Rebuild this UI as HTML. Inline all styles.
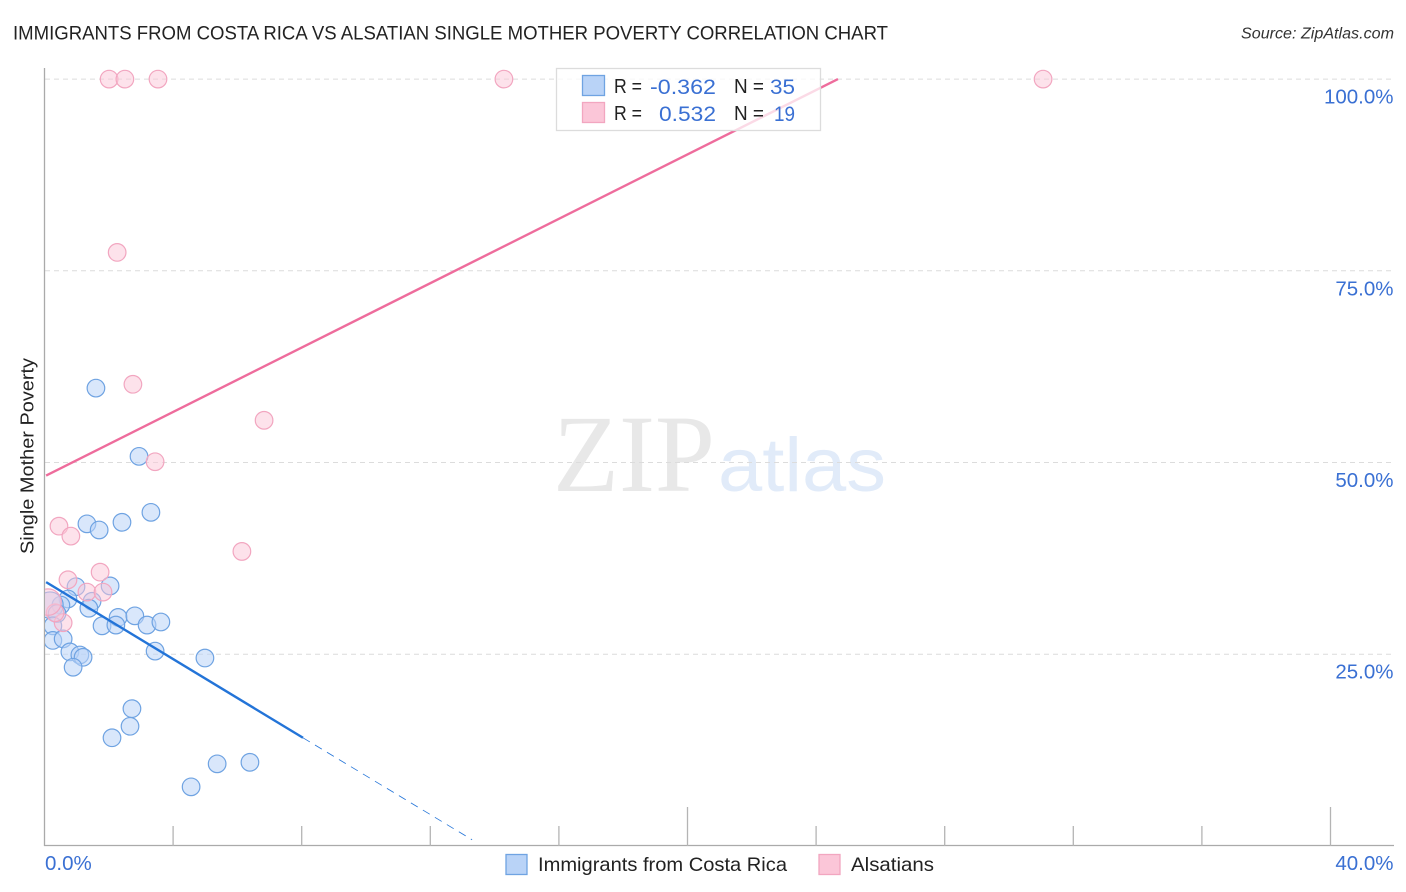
<!DOCTYPE html>
<html lang="en">
<head>
<meta charset="utf-8">
<title>Immigrants from Costa Rica vs Alsatian Single Mother Poverty Correlation Chart</title>
<style>
html,body{margin:0;padding:0;background:#fff;width:1406px;height:892px;overflow:hidden}
svg{display:block;font-family:"Liberation Sans",sans-serif}
</style>
</head>
<body>
<svg id="chart" xmlns="http://www.w3.org/2000/svg" width="1406" height="892" viewBox="0 0 1406 892">
  <defs><clipPath id="plot-clip"><rect x="45" y="60" width="1349" height="786"/></clipPath></defs>
  <g id="watermark">
    <text x="553" y="491" font-family="'Liberation Serif',serif" font-size="110" fill="#e8e8e8" textLength="162" lengthAdjust="spacingAndGlyphs">ZIP</text>
    <text x="718" y="491" font-size="76" fill="#e1ebf9" textLength="168" lengthAdjust="spacingAndGlyphs">atlas</text>
  </g>
  <g id="grid"></g>
  <g id="axes"></g>
  <g id="points-blue" clip-path="url(#plot-clip)"></g>
  <g id="points-pink" clip-path="url(#plot-clip)"></g>
  <g id="trends"></g>
  <text x="13" y="39.500" font-size="19.500" fill="#222" textLength="875" lengthAdjust="spacingAndGlyphs">IMMIGRANTS FROM COSTA RICA VS ALSATIAN SINGLE MOTHER POVERTY CORRELATION CHART</text>
  <text x="1394" y="38.500" font-size="15.500" font-style="italic" fill="#333" text-anchor="end" textLength="153" lengthAdjust="spacingAndGlyphs">Source: ZipAtlas.com</text>
  <text transform="translate(33.500,456) rotate(-90)" font-size="18.500" fill="#222" text-anchor="middle" textLength="196" lengthAdjust="spacingAndGlyphs">Single Mother Poverty</text>
  <g id="stats-legend">
    <rect x="556.500" y="68.500" width="264" height="62" fill="#fff" fill-opacity="0.75" stroke="#dcdcdc" stroke-width="1.300"/>
    <rect x="582.500" y="75.500" width="22" height="20" fill="#b9d3f7" stroke="#6fa3e2" stroke-width="1.300"/>
    <rect x="582.500" y="102.500" width="22" height="20" fill="#fbc6d8" stroke="#f2a6c0" stroke-width="1.300"/>
    <g font-size="20" fill="#222">
      <text x="614" y="93" textLength="28" lengthAdjust="spacingAndGlyphs">R =</text>
      <text x="614" y="120" textLength="28" lengthAdjust="spacingAndGlyphs">R =</text>
      <text x="734" y="93" textLength="30" lengthAdjust="spacingAndGlyphs">N =</text>
      <text x="734" y="120" textLength="30" lengthAdjust="spacingAndGlyphs">N =</text>
    </g>
    <g font-size="21.500" fill="#3a70d3">
      <text x="650" y="94" textLength="66" lengthAdjust="spacingAndGlyphs">-0.362</text>
      <text x="659" y="121" textLength="57" lengthAdjust="spacingAndGlyphs">0.532</text>
      <text x="770" y="94" textLength="25" lengthAdjust="spacingAndGlyphs">35</text>
      <text x="774" y="121" textLength="21" lengthAdjust="spacingAndGlyphs">19</text>
    </g>
  </g>
  <g id="bottom-legend">
    <rect x="506" y="854.500" width="21" height="20" fill="#b9d3f7" stroke="#6fa3e2" stroke-width="1.300"/>
    <text x="538" y="871" font-size="19.500" fill="#222" textLength="249" lengthAdjust="spacingAndGlyphs">Immigrants from Costa Rica</text>
    <rect x="819" y="854.500" width="21" height="20" fill="#fbc6d8" stroke="#f2a6c0" stroke-width="1.300"/>
    <text x="851" y="871" font-size="19.500" fill="#222" textLength="83" lengthAdjust="spacingAndGlyphs">Alsatians</text>
  </g>
</svg>
<script>
var yTicks = [25, 50, 75, 100];
var yTickLabels = ["25.0%", "50.0%", "75.0%", "100.0%"];
var xTicks = [4, 8, 12, 16, 20, 24, 28, 32, 36, 40];
var xMajorTicks = [20, 40];
var xEndLabels = ["0.0%", "40.0%"];

var costaRicaX = [1.60,2.94,3.31,1.32,2.41,1.70,0.98,2.04,0.73,0.51,0.17,0.39,1.48,1.38,0.26,0.26,0.58,0.79,1.10,1.20,0.89,1.79,2.29,2.22,2.81,3.19,3.62,3.44,4.99,2.72,2.66,2.10,5.37,6.39,4.56];
var costaRicaY = [59.7,50.8,43.5,42.0,42.2,41.2,33.8,33.9,32.2,31.4,31.4,30.3,31.9,31.0,28.7,26.8,27.0,25.3,24.9,24.6,23.3,28.7,29.8,28.8,30.0,28.8,29.2,25.4,24.5,17.9,15.6,14.1,10.7,10.9,7.7];
var costaRicaWeight = [1,1,1,1,1,1,1,1,1,1,1.5,1,1,1,1,1,1,1,1,1,1,1,1,1,1,1,1,1,1,1,1,1,1,1,1];

var alsatianX = [2.01,2.50,3.53,14.29,31.06,2.26,2.75,6.83,3.44,0.45,0.82,6.14,1.73,0.73,1.32,1.82,0.58,0.33,0.11];
var alsatianY = [100,100,100,100,100,77.4,60.2,55.5,50.1,41.7,40.4,38.4,35.7,34.7,33.1,33.1,29.1,30.4,31.8];
var alsatianWeight = [1,1,1,1,1,1,1,1,1,1,1,1,1,1,1,1,1,1,1.5];

var costaRicaTrendX = [0.05, 8.04];
var costaRicaTrendY = [34.4, 14.1];
var costaRicaDashX = [8.04, 13.3];
var costaRicaDashY = [14.1, 0.8];
var alsatianTrendX = [0.05, 24.68];
var alsatianTrendY = [48.3, 100];

var SVG_NS = "http://www.w3.org/2000/svg";
function sx(v) { return 44.5 + v * 32.15; }
function sy(v) { return 845.9 - v * 7.668; }
function make(parent, tag, attrs, text) {
  var el = document.createElementNS(SVG_NS, tag);
  for (var k in attrs) el.setAttribute(k, attrs[k]);
  if (text !== undefined) el.textContent = text;
  document.getElementById(parent).appendChild(el);
  return el;
}

yTicks.forEach(function (t, i) {
  var g = make("grid", "line", {x1: 45, x2: 1394, y1: sy(t), y2: sy(t), stroke: "#dcdcdc", "stroke-width": 1, "stroke-dasharray": "5 4"});
  
  
  var l = make("axes", "text", {x: 1393.5, y: sy(t) + 24.5, "text-anchor": "end", "font-size": 20.5, fill: "#3a70d3"}, yTickLabels[i]);
  
  
});

var yAxis = make("axes", "line", {x1: 44.5, x2: 44.5, y1: 68, y2: 846, stroke: "#aaa", "stroke-width": 1.3});


var xAxis = make("axes", "line", {x1: 44, x2: 1394, y1: 845.5, y2: 845.5, stroke: "#aaa", "stroke-width": 1.3});



xTicks.forEach(function (t) {
  var top = xMajorTicks.indexOf(t) >= 0 ? 807 : 826;
  var m = make("axes", "line", {x1: sx(t), x2: sx(t), y1: top, y2: 846, stroke: "#b4b4b4", "stroke-width": 1.3});
  
  
});

var x0 = make("axes", "text", {x: sx(0) + 0.5, y: 870, "font-size": 20.5, fill: "#3a70d3"}, xEndLabels[0]);


var x1 = make("axes", "text", {x: 1393.5, y: 870, "text-anchor": "end", "font-size": 20.5, fill: "#3a70d3"}, xEndLabels[1]);



costaRicaX.forEach(function (v, i) {
  var c = make("points-blue", "circle", {cx: sx(v), cy: sy(costaRicaY[i]), r: 8.8 * costaRicaWeight[i], fill: "#b9d3f7", "fill-opacity": 0.55, stroke: "#6fa3e2", "stroke-width": 1.2});
  
  
});
alsatianX.forEach(function (v, i) {
  var c = make("points-pink", "circle", {cx: sx(v), cy: sy(alsatianY[i]), r: 8.8 * alsatianWeight[i], fill: "#fbc6d8", "fill-opacity": 0.5, stroke: "#f2a6c0", "stroke-width": 1.2});
  
  
});

var t1 = make("trends", "line", {x1: sx(alsatianTrendX[0]), y1: sy(alsatianTrendY[0]), x2: sx(alsatianTrendX[1]), y2: sy(alsatianTrendY[1]), stroke: "#ee6c9c", "stroke-width": 2.4});


var t2 = make("trends", "line", {x1: sx(costaRicaTrendX[0]), y1: sy(costaRicaTrendY[0]), x2: sx(costaRicaTrendX[1]), y2: sy(costaRicaTrendY[1]), stroke: "#2374d8", "stroke-width": 2.4});


var t3 = make("trends", "line", {x1: sx(costaRicaDashX[0]), y1: sy(costaRicaDashY[0]), x2: sx(costaRicaDashX[1]), y2: sy(costaRicaDashY[1]), stroke: "#2374d8", "stroke-width": 0.8, "stroke-dasharray": "8 6"});



var chart = document.getElementById("chart");
chart.appendChild(document.getElementById("stats-legend"));
</script>
</body>
</html>
